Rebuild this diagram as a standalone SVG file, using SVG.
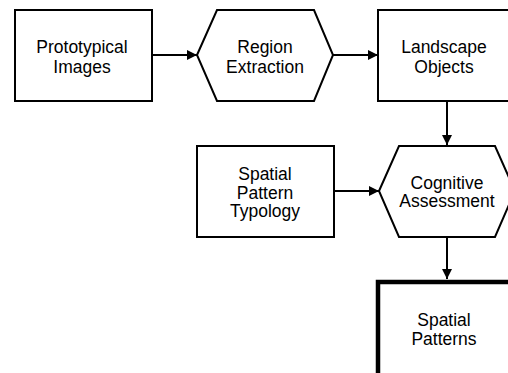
<svg xmlns="http://www.w3.org/2000/svg" width="508" height="373" viewBox="0 0 508 373">
<style>
.n{fill:#fff;stroke:#000;stroke-width:2}
.t{font-family:"Liberation Sans",Arial,sans-serif;font-size:17.5px;text-anchor:middle;fill:#000}
.c{stroke:#000;stroke-width:2;fill:none;marker-end:url(#ah)}
</style>
<defs>
<marker id="ah" viewBox="0 0 10 10" refX="10" refY="5" markerWidth="10" markerHeight="10" markerUnits="userSpaceOnUse" orient="auto">
<path d="M0,0 L10,5 L0,10 Z" fill="#000"/>
</marker>
</defs>
<rect width="508" height="373" fill="#fff"/>
<g id="connectors">
<line class="c" x1="152" y1="55" x2="197" y2="55"/>
<line class="c" x1="333" y1="55" x2="378" y2="55"/>
<line class="c" x1="447" y1="101" x2="447" y2="145"/>
<line class="c" x1="334" y1="191" x2="379" y2="191"/>
<line class="c" x1="447" y1="237" x2="447" y2="279"/>
</g>
<g id="prototypical-images">
<rect class="n" x="15" y="10" width="137" height="91"/>
<text class="t" x="82" y="53">Prototypical<tspan x="82" dy="19.5">Images</tspan></text>
</g>
<g id="region-extraction">
<polygon class="n" points="197,55 217,10 314,10 333,55 314,101 217,101"/>
<text class="t" x="265" y="53">Region<tspan x="265" dy="19.5">Extraction</tspan></text>
</g>
<g id="landscape-objects">
<rect class="n" x="378" y="10" width="134" height="91"/>
<text class="t" x="444" y="53">Landscape<tspan x="444" dy="19.5">Objects</tspan></text>
</g>
<g id="spatial-pattern-typology">
<rect class="n" x="197" y="146" width="137" height="91"/>
<text class="t" x="265" y="180">Spatial<tspan x="265" dy="18.5">Pattern</tspan><tspan x="265" dy="18.5">Typology</tspan></text>
</g>
<g id="cognitive-assessment">
<polygon class="n" points="379,191 399,146 495,146 515,191 495,237 399,237"/>
<text class="t" x="447" y="188.5">Cognitive<tspan x="447" dy="18.5">Assessment</tspan></text>
</g>
<g id="spatial-patterns">
<rect class="n" x="378" y="282" width="136" height="100" style="stroke-width:4.5"/>
<text class="t" x="444" y="326">Spatial<tspan x="444" dy="18.5">Patterns</tspan></text>
</g>
</svg>
